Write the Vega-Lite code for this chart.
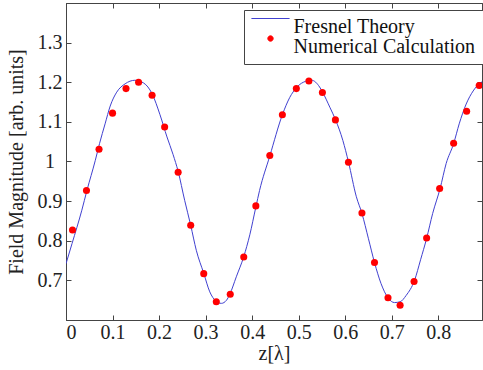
{
  "$schema": "https://vega.github.io/schema/vega-lite/v6.json",
  "width": 416,
  "height": 317,
  "autosize": {"type": "none"},
  "padding": {"left": 66, "top": 3, "right": 1, "bottom": 50},
  "background": "white",
  "config": {
    "view": {"stroke": "#444444", "strokeWidth": 1},
    "font": "Liberation Serif",
    "axis": {
      "grid": false,
      "domainColor": "#444444",
      "tickColor": "#444444",
      "tickSize": -5,
      "labelFont": "Liberation Serif",
      "labelFontSize": 20,
      "labelColor": "#222222",
      "titleFont": "Liberation Serif",
      "titleFontSize": 20,
      "titleFontWeight": "normal",
      "titleColor": "#222222"
    }
  },
  "datasets": {
    "theory": [
      {"z": 0.000, "v": 0.742, "series": "Fresnel Theory"},
      {"z": 0.013, "v": 0.793, "series": "Fresnel Theory"},
      {"z": 0.034, "v": 0.877, "series": "Fresnel Theory"},
      {"z": 0.045, "v": 0.927, "series": "Fresnel Theory"},
      {"z": 0.063, "v": 1.003, "series": "Fresnel Theory"},
      {"z": 0.072, "v": 1.045, "series": "Fresnel Theory"},
      {"z": 0.084, "v": 1.095, "series": "Fresnel Theory"},
      {"z": 0.095, "v": 1.140, "series": "Fresnel Theory"},
      {"z": 0.109, "v": 1.175, "series": "Fresnel Theory"},
      {"z": 0.127, "v": 1.196, "series": "Fresnel Theory"},
      {"z": 0.148, "v": 1.205, "series": "Fresnel Theory"},
      {"z": 0.167, "v": 1.198, "series": "Fresnel Theory"},
      {"z": 0.185, "v": 1.171, "series": "Fresnel Theory"},
      {"z": 0.202, "v": 1.118, "series": "Fresnel Theory"},
      {"z": 0.217, "v": 1.062, "series": "Fresnel Theory"},
      {"z": 0.230, "v": 1.018, "series": "Fresnel Theory"},
      {"z": 0.241, "v": 0.975, "series": "Fresnel Theory"},
      {"z": 0.255, "v": 0.902, "series": "Fresnel Theory"},
      {"z": 0.268, "v": 0.839, "series": "Fresnel Theory"},
      {"z": 0.280, "v": 0.776, "series": "Fresnel Theory"},
      {"z": 0.296, "v": 0.718, "series": "Fresnel Theory"},
      {"z": 0.309, "v": 0.671, "series": "Fresnel Theory"},
      {"z": 0.322, "v": 0.648, "series": "Fresnel Theory"},
      {"z": 0.334, "v": 0.642, "series": "Fresnel Theory"},
      {"z": 0.345, "v": 0.650, "series": "Fresnel Theory"},
      {"z": 0.352, "v": 0.665, "series": "Fresnel Theory"},
      {"z": 0.366, "v": 0.709, "series": "Fresnel Theory"},
      {"z": 0.382, "v": 0.760, "series": "Fresnel Theory"},
      {"z": 0.395, "v": 0.815, "series": "Fresnel Theory"},
      {"z": 0.408, "v": 0.885, "series": "Fresnel Theory"},
      {"z": 0.416, "v": 0.927, "series": "Fresnel Theory"},
      {"z": 0.438, "v": 1.014, "series": "Fresnel Theory"},
      {"z": 0.465, "v": 1.118, "series": "Fresnel Theory"},
      {"z": 0.481, "v": 1.162, "series": "Fresnel Theory"},
      {"z": 0.495, "v": 1.186, "series": "Fresnel Theory"},
      {"z": 0.510, "v": 1.200, "series": "Fresnel Theory"},
      {"z": 0.528, "v": 1.205, "series": "Fresnel Theory"},
      {"z": 0.545, "v": 1.188, "series": "Fresnel Theory"},
      {"z": 0.551, "v": 1.176, "series": "Fresnel Theory"},
      {"z": 0.567, "v": 1.137, "series": "Fresnel Theory"},
      {"z": 0.579, "v": 1.106, "series": "Fresnel Theory"},
      {"z": 0.595, "v": 1.053, "series": "Fresnel Theory"},
      {"z": 0.607, "v": 0.999, "series": "Fresnel Theory"},
      {"z": 0.624, "v": 0.911, "series": "Fresnel Theory"},
      {"z": 0.636, "v": 0.869, "series": "Fresnel Theory"},
      {"z": 0.650, "v": 0.805, "series": "Fresnel Theory"},
      {"z": 0.663, "v": 0.745, "series": "Fresnel Theory"},
      {"z": 0.677, "v": 0.692, "series": "Fresnel Theory"},
      {"z": 0.692, "v": 0.656, "series": "Fresnel Theory"},
      {"z": 0.706, "v": 0.644, "series": "Fresnel Theory"},
      {"z": 0.718, "v": 0.646, "series": "Fresnel Theory"},
      {"z": 0.731, "v": 0.662, "series": "Fresnel Theory"},
      {"z": 0.749, "v": 0.700, "series": "Fresnel Theory"},
      {"z": 0.762, "v": 0.752, "series": "Fresnel Theory"},
      {"z": 0.775, "v": 0.806, "series": "Fresnel Theory"},
      {"z": 0.788, "v": 0.869, "series": "Fresnel Theory"},
      {"z": 0.804, "v": 0.932, "series": "Fresnel Theory"},
      {"z": 0.817, "v": 0.995, "series": "Fresnel Theory"},
      {"z": 0.833, "v": 1.045, "series": "Fresnel Theory"},
      {"z": 0.845, "v": 1.095, "series": "Fresnel Theory"},
      {"z": 0.860, "v": 1.145, "series": "Fresnel Theory"},
      {"z": 0.875, "v": 1.178, "series": "Fresnel Theory"},
      {"z": 0.888, "v": 1.196, "series": "Fresnel Theory"},
      {"z": 0.894, "v": 1.201, "series": "Fresnel Theory"}
    ],
    "numeric": [
      {"z": 0.014, "v": 0.827, "series": "Numerical Calculation"},
      {"z": 0.044, "v": 0.927, "series": "Numerical Calculation"},
      {"z": 0.071, "v": 1.031, "series": "Numerical Calculation"},
      {"z": 0.100, "v": 1.122, "series": "Numerical Calculation"},
      {"z": 0.129, "v": 1.184, "series": "Numerical Calculation"},
      {"z": 0.156, "v": 1.200, "series": "Numerical Calculation"},
      {"z": 0.185, "v": 1.167, "series": "Numerical Calculation"},
      {"z": 0.212, "v": 1.087, "series": "Numerical Calculation"},
      {"z": 0.241, "v": 0.973, "series": "Numerical Calculation"},
      {"z": 0.268, "v": 0.839, "series": "Numerical Calculation"},
      {"z": 0.296, "v": 0.717, "series": "Numerical Calculation"},
      {"z": 0.323, "v": 0.646, "series": "Numerical Calculation"},
      {"z": 0.353, "v": 0.665, "series": "Numerical Calculation"},
      {"z": 0.382, "v": 0.759, "series": "Numerical Calculation"},
      {"z": 0.408, "v": 0.888, "series": "Numerical Calculation"},
      {"z": 0.438, "v": 1.015, "series": "Numerical Calculation"},
      {"z": 0.465, "v": 1.118, "series": "Numerical Calculation"},
      {"z": 0.495, "v": 1.184, "series": "Numerical Calculation"},
      {"z": 0.522, "v": 1.203, "series": "Numerical Calculation"},
      {"z": 0.551, "v": 1.174, "series": "Numerical Calculation"},
      {"z": 0.579, "v": 1.105, "series": "Numerical Calculation"},
      {"z": 0.607, "v": 0.998, "series": "Numerical Calculation"},
      {"z": 0.636, "v": 0.870, "series": "Numerical Calculation"},
      {"z": 0.663, "v": 0.745, "series": "Numerical Calculation"},
      {"z": 0.692, "v": 0.656, "series": "Numerical Calculation"},
      {"z": 0.718, "v": 0.637, "series": "Numerical Calculation"},
      {"z": 0.748, "v": 0.697, "series": "Numerical Calculation"},
      {"z": 0.775, "v": 0.807, "series": "Numerical Calculation"},
      {"z": 0.803, "v": 0.932, "series": "Numerical Calculation"},
      {"z": 0.833, "v": 1.046, "series": "Numerical Calculation"},
      {"z": 0.861, "v": 1.127, "series": "Numerical Calculation"},
      {"z": 0.888, "v": 1.192, "series": "Numerical Calculation"}
    ]
  },
  "layer": [
    {
      "data": {"name": "theory"},
      "mark": {"type": "line", "strokeWidth": 1, "interpolate": "monotone", "clip": true},
      "encoding": {
        "x": {
          "field": "z", "type": "quantitative",
          "scale": {"domain": [0, 0.894], "nice": false, "zero": false},
          "axis": {"orient": "bottom", "values": [0, 0.1, 0.2, 0.3, 0.4, 0.5, 0.6, 0.7, 0.8], "format": ".1~f", "labelPadding": 7, "title": "z[λ]", "titlePadding": 1}
        },
        "y": {
          "field": "v", "type": "quantitative",
          "scale": {"domain": [0.6, 1.4], "nice": false, "zero": false},
          "axis": {"orient": "left", "values": [0.7, 0.8, 0.9, 1, 1.1, 1.2, 1.3], "format": ".1~f", "labelAlign": "center", "labelPadding": 21.5, "title": "Field Magnitude [arb. units]", "titlePadding": 11}
        },
        "color": {
          "field": "series", "type": "nominal",
          "scale": {"domain": ["Fresnel Theory", "Numerical Calculation"], "range": ["#4040d0", "#ff0000"]},
          "legend": {
            "orient": "none", "legendX": 178, "legendY": 7, "direction": "vertical",
            "title": null, "strokeColor": "#444444", "fillColor": "white", "padding": 7,
            "labelFont": "Liberation Serif", "labelFontSize": 20, "labelColor": "#111111", "labelLimit": 400,
            "labelBaseline": "middle", "symbolSize": 50, "symbolOffset": 9.5, "labelOffset": 13,
            "rowPadding": -5,
            "encode": {
              "symbols": {"update": {
                "shape": {"signal": "datum.value === 'Fresnel Theory' ? 'M-5.4,-2.4L5.4,-2.4' : 'M0.76,-2.4A0.76,0.76,0,1,1,-0.76,-2.4A0.76,0.76,0,1,1,0.76,-2.4Z'"},
                "fill": {"signal": "datum.value === 'Fresnel Theory' ? 'transparent' : '#ff0000'"},
                "stroke": {"signal": "datum.value === 'Fresnel Theory' ? '#4040d0' : '#ff0000'"},
                "strokeWidth": {"value": 1},
                "opacity": {"value": 1}
              }}
            }
          }
        }
      }
    },
    {
      "data": {"name": "numeric"},
      "mark": {"type": "point", "filled": true, "size": 50, "opacity": 1, "clip": true},
      "encoding": {
        "x": {
          "field": "z", "type": "quantitative",
          "axis": {"orient": "top", "values": [0, 0.1, 0.2, 0.3, 0.4, 0.5, 0.6, 0.7, 0.8], "labels": false, "title": null}
        },
        "y": {
          "field": "v", "type": "quantitative",
          "axis": {"orient": "right", "values": [0.7, 0.8, 0.9, 1, 1.1, 1.2, 1.3], "labels": false, "title": null}
        },
        "color": {"field": "series", "type": "nominal"}
      }
    }
  ],
  "resolve": {"axis": {"x": "independent", "y": "independent"}}
}
